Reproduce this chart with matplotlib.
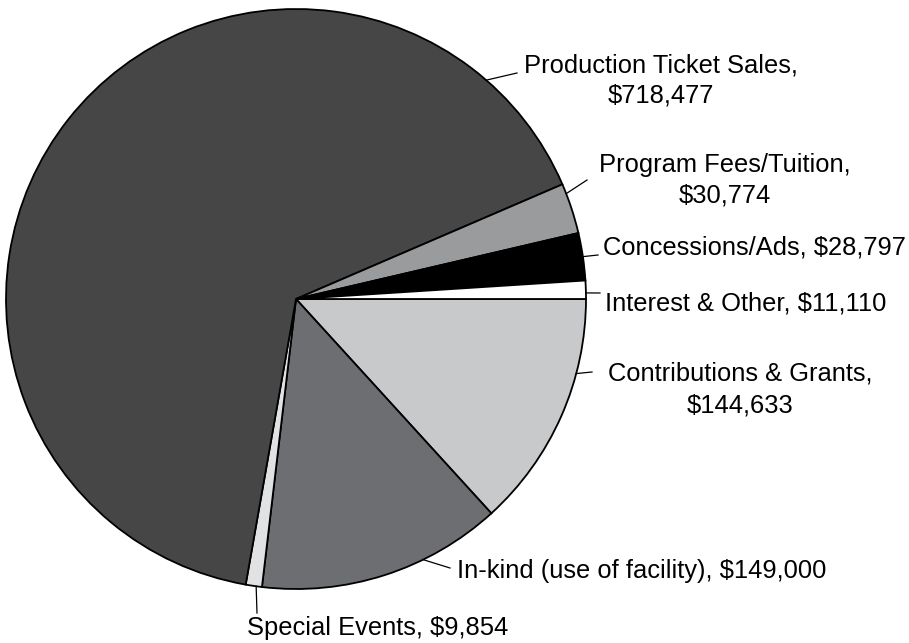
import matplotlib.pyplot as plt
import numpy as np

# revenue sources, clockwise from 3 o'clock
names = ["Contributions & Grants", "In-kind (use of facility)", "Special Events",
         "Production Ticket Sales", "Program Fees/Tuition", "Concessions/Ads",
         "Interest & Other"]
values = [144633, 149000, 9854, 718477, 30774, 28797, 11110]
colors = ["#c8c9cb", "#6d6e71", "#e1e2e4", "#464646", "#9a9b9d", "#000000", "#ffffff"]

W, H = 909, 643
cx, cy, r = 296, 299, 290   # pie centre / radius in pixels (y from top)

plt.rcParams['font.family'] = ['Liberation Sans', 'DejaVu Sans']
fig = plt.figure(figsize=(W / 100, H / 100), dpi=100)
ax = fig.add_axes([0, 0, 1, 1])

ax.pie(values, colors=colors, center=(cx, H - cy), radius=r, startangle=0,
       counterclock=False, wedgeprops=dict(edgecolor='black', linewidth=1.3))
ax.set_xlim(0, W)
ax.set_ylim(0, H)
ax.set_aspect('equal')
ax.axis('off')

# label layout: leader angle on the rim (deg), leader end, text x, baselines, alignment
layout = {
    "Production Ticket Sales": dict(ang=49, end=(517, 73), x=661, ys=[72, 103], ha='center'),
    "Program Fees/Tuition": dict(ang=21.3, end=(587, 180), x=725, ys=[172, 203], ha='center'),
    "Concessions/Ads": dict(ang=8.4, end=(598, 255), x=603, ys=[255], ha='left'),
    "Interest & Other": dict(ang=1.2, end=(600, 293), x=605, ys=[310], ha='left'),
    "Contributions & Grants": dict(ang=-14.9, end=(592, 372), x=740, ys=[381, 412], ha='center'),
    "In-kind (use of facility)": dict(ang=-64, end=(450, 568), x=457, ys=[578], ha='left'),
    "Special Events": dict(ang=-97.9, end=(257, 613), x=247, ys=[635], ha='left'),
}

for name, v in zip(names, values):
    lay = layout[name]
    a = np.deg2rad(lay['ang'])
    x0, y0 = cx + r * np.cos(a), cy - r * np.sin(a)
    x1, y1 = lay['end']
    ax.plot([x0, x1], [H - y0, H - y1], color='black', lw=0.9)
    if len(lay['ys']) == 2:
        lines = [name + ",", f"${v:,}"]
    else:
        lines = [f"{name}, ${v:,}"]
    for txt, yb in zip(lines, lay['ys']):
        ax.text(lay['x'], H - yb, txt, ha=lay['ha'], va='baseline', fontsize=18.4,
                color='black')

fig.savefig("out.png", dpi=100)
